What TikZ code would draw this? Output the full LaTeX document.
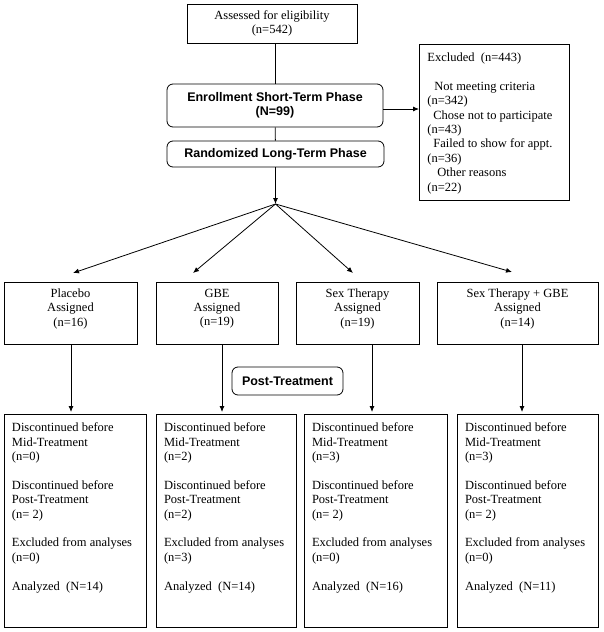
\documentclass[tikz,border=0pt]{standalone}
\usepackage{fontspec}
\setmainfont{Liberation Serif}
\setsansfont{Liberation Sans}
\usetikzlibrary{arrows.meta}

\newcommand{\boxtext}[3]{\parbox[t][#1][t]{#2}{\raggedright #3}}
\newcommand{\armtext}[2]{\parbox[t][49pt][t]{#1}{\centering #2}}

\begin{document}
\begin{tikzpicture}[x=1pt, y=-1pt,
    box/.style={draw, rectangle, line width=0.8pt, align=center, inner sep=0pt, font=\fontsize{12.5}{14.4}\selectfont},
    phase/.style={box, rounded corners=6pt, font=\fontsize{12.5}{14.4}\selectfont\sffamily\bfseries},
    arm/.style={draw, rectangle, line width=0.8pt, anchor=north, inner xsep=0pt, inner ysep=6.5pt, font=\fontsize{12.5}{14.4}\selectfont},
    result/.style={draw, rectangle, line width=0.8pt, anchor=north, inner xsep=8pt, inner ysep=8.5pt, font=\fontsize{12.5}{14.4}\selectfont},
    flow/.style={-{Latex[length=6pt,width=5pt]}, line width=0.8pt}]
    \useasboundingbox (0,0) rectangle (603,632);

    % Screening and enrollment
    \node[box, minimum width=170, minimum height=39] (elig) at (272,23.5) {Assessed for eligibility\\(n=542)};
    \node[phase, minimum width=216, minimum height=43] (enroll) at (275,105.5) {Enrollment Short-Term Phase\\(N=99)};
    \node[phase, minimum width=217, minimum height=26] (rand) at (275.5,154) {Randomized Long-Term Phase};
    \node[result, anchor=north west] (excl) at (419,44) {\boxtext{139pt}{134pt}{%
        Excluded\ \ (n=443)\\[14.4pt]
        \hspace*{7pt}Not meeting criteria\\
        (n=342)\\
        \hspace*{6pt}Chose not to participate\\
        (n=43)\\
        \hspace*{6pt}Failed to show for appt.\\
        (n=36)\\
        \hspace*{10pt}Other reasons\\
        (n=22)}};
    \coordinate (split) at (275.5,204);

    % Assigned arms
    \node[arm] (pla) at (70.5,282) {\armtext{133pt}{Placebo\\Assigned\\(n=16)}};
    \node[arm] (gbe) at (217,282) {\armtext{122pt}{GBE\\Assigned\\(n=19)}};
    \node[arm] (sex) at (357.5,282) {\armtext{123pt}{Sex Therapy\\Assigned\\(n=19)}};
    \node[arm] (sxg) at (517.5,282) {\armtext{161pt}{Sex Therapy + GBE\\Assigned\\(n=14)}};
    \coordinate (pla-tip) at (73,273);
    \coordinate (gbe-tip) at (193,273);
    \coordinate (sex-tip) at (353,273);
    \coordinate (sxg-tip) at (512,272);

    \node[phase, minimum width=111, minimum height=28] (post) at (287.5,381) {Post-Treatment};

    % Outcomes per arm
    \node[result] (pla2) at (75,414) {\boxtext{196pt}{126pt}{%
        Discontinued before\\Mid-Treatment\\(n=0)\\[14.4pt]
        Discontinued before\\Post-Treatment\\(n=\ 2)\\[14.4pt]
        Excluded from analyses\\(n=0)\\[14.4pt]
        Analyzed\ \ (N=14)}};
    \node[result] (gbe2) at (226,414) {\boxtext{196pt}{124pt}{%
        Discontinued before\\Mid-Treatment\\(n=2)\\[14.4pt]
        Discontinued before\\Post-Treatment\\(n=2)\\[14.4pt]
        Excluded from analyses\\(n=3)\\[14.4pt]
        Analyzed\ \ (N=14)}};
    \node[result] (sex2) at (375.5,414) {\boxtext{196pt}{127pt}{%
        Discontinued before\\Mid-Treatment\\(n=3)\\[14.4pt]
        Discontinued before\\Post-Treatment\\(n=\ 2)\\[14.4pt]
        Excluded from analyses\\(n=0)\\[14.4pt]
        Analyzed\ \ (N=16)}};
    \node[result] (sxg2) at (527.5,414) {\boxtext{196pt}{125pt}{%
        Discontinued before\\Mid-Treatment\\(n=3)\\[14.4pt]
        Discontinued before\\Post-Treatment\\(n=\ 2)\\[14.4pt]
        Excluded from analyses\\(n=0)\\[14.4pt]
        Analyzed\ \ (N=11)}};

    % Connect the boxes
    \draw[line width=0.8pt] (enroll.north |- elig.south) -- (enroll.north);
    \draw[line width=0.8pt] (enroll) -- (rand);
    \coordinate (enroll-out) at ([yshift=-3.5pt]enroll.east);
    \draw[flow] (enroll-out) -- (enroll-out -| excl.west);
    \draw[flow] (rand) -- (split);
    \draw[flow] (split) -- (pla-tip);
    \draw[flow] (split) -- (gbe-tip);
    \draw[flow] (split) -- (sex-tip);
    \draw[flow] (split) -- (sxg-tip);
    \draw[flow, shorten >=2pt] ([xshift=0.5pt]pla.south) -- ([xshift=-4pt]pla2.north);
    \draw[flow, shorten >=2pt] ([xshift=5pt]gbe.south) -- ([xshift=-4pt]gbe2.north);
    \draw[flow, shorten >=2pt] ([xshift=14.5pt]sex.south) -- ([xshift=-3.5pt]sex2.north);
    \draw[flow, shorten >=2pt] ([xshift=4.5pt]sxg.south) -- ([xshift=-5.5pt]sxg2.north);
\end{tikzpicture}
\end{document}
